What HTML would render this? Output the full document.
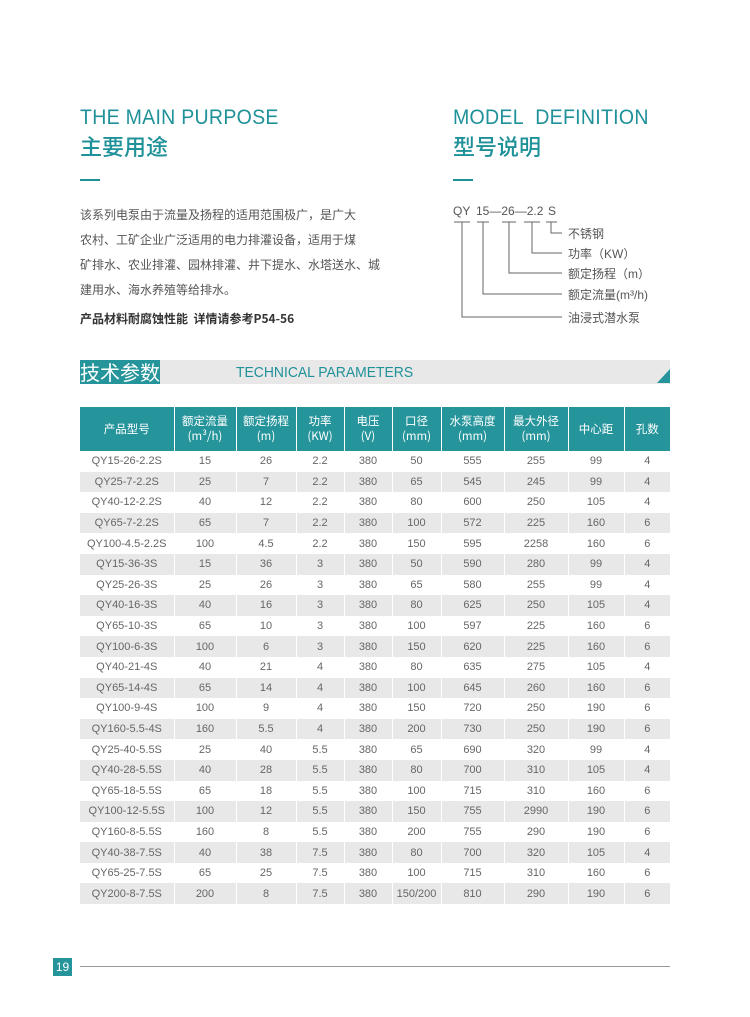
<!DOCTYPE html>
<html><head><meta charset="utf-8"><style>
*{margin:0;padding:0;box-sizing:border-box}
body{width:750px;height:1017px;background:#fff;position:relative;font-family:"Liberation Sans","Noto Sans CJK SC",sans-serif;overflow:hidden}
.a{position:absolute;white-space:nowrap}
.t1{color:#1f9199;font-size:21px;letter-spacing:0.3px;transform:scaleX(0.93);transform-origin:left}
.t2{color:#1f9199;font-size:22px;font-family:"Noto Sans CJK SC",sans-serif;font-weight:500}
.p{color:#555;font-size:12px;line-height:25px;font-family:"Noto Sans CJK SC",sans-serif}
table{position:absolute;left:80px;top:407px;width:590px;border-collapse:collapse;font-family:"Liberation Sans","Noto Sans CJK SC",sans-serif}
th{background:#26959b;color:#fff;font-weight:normal;font-size:11.5px;line-height:15px;height:44px;border-left:1px solid #fff;font-family:"Noto Sans CJK SC",sans-serif}
th:first-child{border-left:none}
td{text-align:center;font-size:11px;color:#666;height:20.6px;padding:0;border-left:1px solid #fff}
td:first-child{border-left:none}
tr.g td{background:#e8e8e8}
</style></head><body>
<div class="a t1" style="left:80px;top:106px">THE MAIN PURPOSE</div>
<div class="a t2" style="left:80px;top:130px">主要用途</div>
<div class="a" style="left:80px;top:179px;width:20px;height:2px;background:#1f9199"></div>
<div class="a p" style="left:80px;top:202px">该系列电泵由于流量及扬程的适用范围极广，是广大<br>农村、工矿企业广泛适用的电力排灌设备，适用于煤<br>矿排水、农业排灌、园林排灌、井下提水、水塔送水、城<br>建用水、海水养殖等给排水。</div>
<div class="a" style="left:80px;top:310px;font-size:12px;color:#333;font-weight:bold;font-family:'Noto Sans CJK SC',sans-serif">产品材料耐腐蚀性能&nbsp; 详情请参考P54-56</div>

<div class="a t1" style="left:453px;top:106px">MODEL&nbsp; DEFINITION</div>
<div class="a t2" style="left:453px;top:130px">型号说明</div>
<div class="a" style="left:453px;top:179px;width:20px;height:2px;background:#1f9199"></div>
<svg class="a" style="left:440px;top:195px" width="240" height="140">
<g font-family="Liberation Sans,Noto Sans CJK SC,sans-serif" font-size="12" fill="#555">
<text x="13" y="20">QY</text><text x="36" y="20">15—26—2.2</text><text x="108" y="20">S</text>
<text x="128" y="43">不锈钢</text><text x="128" y="63">功率（KW）</text><text x="128" y="83">额定扬程（m）</text><text x="128" y="104">额定流量(m³/h)</text><text x="128" y="127">油浸式潜水泵</text>
</g>
<g stroke="#666" fill="none" stroke-width="1">
<path d="M14 27h16M22 27v95h100"/><path d="M37 27h12M43 27v72h79"/><path d="M62 27h14M69 27v51h53"/><path d="M84 27h16M92 27v31h30"/><path d="M106 27h11M111 27v11h11"/>
</g></svg>

<div class="a" style="left:80px;top:360px;width:80px;height:24px;background:#26959b;color:#fff;font-size:20px;line-height:24px;font-family:'Noto Sans CJK SC',sans-serif">技术参数</div>
<div class="a" style="left:160px;top:360px;width:510px;height:24px;background:#e8e8e8"></div>
<div class="a" style="left:236px;top:362px;font-size:14.5px;color:#1f9199;line-height:22px;transform:scaleX(0.96);transform-origin:left">TECHNICAL PARAMETERS</div>
<div class="a" style="left:657px;top:369px;width:0;height:0;border-left:13px solid transparent;border-bottom:14px solid #26959b"></div>

<table>
<colgroup><col style="width:94px"><col style="width:62px"><col style="width:60px"><col style="width:48px"><col style="width:48px"><col style="width:49px"><col style="width:63px"><col style="width:64px"><col style="width:56px"><col style="width:46px"></colgroup>
<tr><th>产品型号</th><th>额定流量<br>(m³/h)</th><th>额定扬程<br>(m)</th><th>功率<br>(KW)</th><th>电压<br>(V)</th><th>口径<br>(mm)</th><th>水泵高度<br>(mm)</th><th>最大外径<br>(mm)</th><th>中心距</th><th>孔数</th></tr>
<tr><td>QY15-26-2.2S</td><td>15</td><td>26</td><td>2.2</td><td>380</td><td>50</td><td>555</td><td>255</td><td>99</td><td>4</td></tr>
<tr class="g"><td>QY25-7-2.2S</td><td>25</td><td>7</td><td>2.2</td><td>380</td><td>65</td><td>545</td><td>245</td><td>99</td><td>4</td></tr>
<tr><td>QY40-12-2.2S</td><td>40</td><td>12</td><td>2.2</td><td>380</td><td>80</td><td>600</td><td>250</td><td>105</td><td>4</td></tr>
<tr class="g"><td>QY65-7-2.2S</td><td>65</td><td>7</td><td>2.2</td><td>380</td><td>100</td><td>572</td><td>225</td><td>160</td><td>6</td></tr>
<tr><td>QY100-4.5-2.2S</td><td>100</td><td>4.5</td><td>2.2</td><td>380</td><td>150</td><td>595</td><td>2258</td><td>160</td><td>6</td></tr>
<tr class="g"><td>QY15-36-3S</td><td>15</td><td>36</td><td>3</td><td>380</td><td>50</td><td>590</td><td>280</td><td>99</td><td>4</td></tr>
<tr><td>QY25-26-3S</td><td>25</td><td>26</td><td>3</td><td>380</td><td>65</td><td>580</td><td>255</td><td>99</td><td>4</td></tr>
<tr class="g"><td>QY40-16-3S</td><td>40</td><td>16</td><td>3</td><td>380</td><td>80</td><td>625</td><td>250</td><td>105</td><td>4</td></tr>
<tr><td>QY65-10-3S</td><td>65</td><td>10</td><td>3</td><td>380</td><td>100</td><td>597</td><td>225</td><td>160</td><td>6</td></tr>
<tr class="g"><td>QY100-6-3S</td><td>100</td><td>6</td><td>3</td><td>380</td><td>150</td><td>620</td><td>225</td><td>160</td><td>6</td></tr>
<tr><td>QY40-21-4S</td><td>40</td><td>21</td><td>4</td><td>380</td><td>80</td><td>635</td><td>275</td><td>105</td><td>4</td></tr>
<tr class="g"><td>QY65-14-4S</td><td>65</td><td>14</td><td>4</td><td>380</td><td>100</td><td>645</td><td>260</td><td>160</td><td>6</td></tr>
<tr><td>QY100-9-4S</td><td>100</td><td>9</td><td>4</td><td>380</td><td>150</td><td>720</td><td>250</td><td>190</td><td>6</td></tr>
<tr class="g"><td>QY160-5.5-4S</td><td>160</td><td>5.5</td><td>4</td><td>380</td><td>200</td><td>730</td><td>250</td><td>190</td><td>6</td></tr>
<tr><td>QY25-40-5.5S</td><td>25</td><td>40</td><td>5.5</td><td>380</td><td>65</td><td>690</td><td>320</td><td>99</td><td>4</td></tr>
<tr class="g"><td>QY40-28-5.5S</td><td>40</td><td>28</td><td>5.5</td><td>380</td><td>80</td><td>700</td><td>310</td><td>105</td><td>4</td></tr>
<tr><td>QY65-18-5.5S</td><td>65</td><td>18</td><td>5.5</td><td>380</td><td>100</td><td>715</td><td>310</td><td>160</td><td>6</td></tr>
<tr class="g"><td>QY100-12-5.5S</td><td>100</td><td>12</td><td>5.5</td><td>380</td><td>150</td><td>755</td><td>2990</td><td>190</td><td>6</td></tr>
<tr><td>QY160-8-5.5S</td><td>160</td><td>8</td><td>5.5</td><td>380</td><td>200</td><td>755</td><td>290</td><td>190</td><td>6</td></tr>
<tr class="g"><td>QY40-38-7.5S</td><td>40</td><td>38</td><td>7.5</td><td>380</td><td>80</td><td>700</td><td>320</td><td>105</td><td>4</td></tr>
<tr><td>QY65-25-7.5S</td><td>65</td><td>25</td><td>7.5</td><td>380</td><td>100</td><td>715</td><td>310</td><td>160</td><td>6</td></tr>
<tr class="g"><td>QY200-8-7.5S</td><td>200</td><td>8</td><td>7.5</td><td>380</td><td>150/200</td><td>810</td><td>290</td><td>190</td><td>6</td></tr>
</table>

<div class="a" style="left:53px;top:958px;width:19px;height:18px;background:#26959b;color:#fff;font-size:12px;line-height:18px;text-align:center">19</div>
<div class="a" style="left:80px;top:966px;width:590px;height:1px;background:#999"></div>
</body></html>
